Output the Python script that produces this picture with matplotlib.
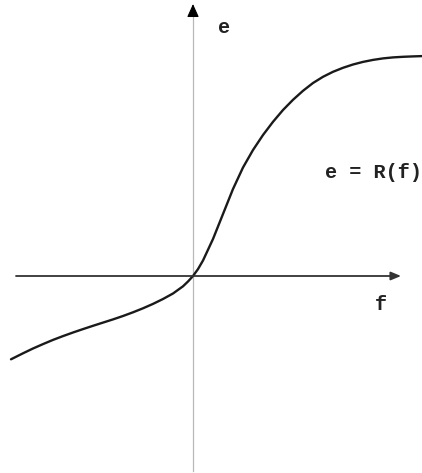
import numpy as np
import matplotlib.pyplot as plt

f_vals = [-182, -170, -160, -150, -140, -130, -120, -110, -100, -90, -80,
          -70, -60, -50, -40, -30, -20, -10, -5, 0, 5, 10, 20, 30, 40, 50,
          60, 70, 80, 90, 100, 110, 120, 130, 140, 150, 160, 170, 180, 190,
          200, 210, 220, 229]
e_vals = [-83.3, -77.3, -72.5, -68.1, -63.9, -60.1, -56.5, -53.1, -49.8,
          -46.6, -43.4, -40.0, -36.3, -32.3, -27.9, -23.0, -17.5, -10.3,
          -5.5, 0, 6.9, 15.5, 37.0, 62.0, 87.0, 108.5, 126.0, 141.0, 154.2,
          166.0, 176.2, 185.2, 193.0, 199.2, 204.2, 208.2, 211.5, 214.1,
          216.1, 217.6, 218.6, 219.2, 219.6, 219.9]

axis_f = [-177, 208]
axis_e = [-195, 272]

fig = plt.figure(figsize=(4.22, 4.73), dpi=100)
ax = fig.add_axes([0, 0, 1, 1])
ax.set_xlim(-193, 229)
ax.set_ylim(-197, 276)
ax.axis('off')

# vertical axis: light grey line, dark head
ax.plot([0, 0], [axis_e[0], axis_e[1] - 10], color='#b8b8b8', lw=0.9)
ax.annotate('', xy=(0, axis_e[1]), xytext=(0, axis_e[1] - 11),
            arrowprops=dict(arrowstyle='-|>,head_length=0.8,head_width=0.36',
                            color='black', lw=0.8, shrinkA=0, shrinkB=0,
                            mutation_scale=10))

# horizontal axis
ax.annotate('', xy=(axis_f[1], 0), xytext=(axis_f[0], 0),
            arrowprops=dict(arrowstyle='-|>,head_length=0.6,head_width=0.25',
                            color='#333333', lw=1.3, shrinkA=0, shrinkB=0,
                            mutation_scale=10))

ax.plot(f_vals, e_vals, color='#1a1a1a', lw=1.7,
        solid_joinstyle='round', solid_capstyle='round')

font = dict(family='Liberation Mono', weight='bold', fontsize=14.5, color='#222222')
ax.text(31, 248, 'e', ha='center', va='center', **font)
ax.text(188, -29, 'f', ha='center', va='center', **font)
ax.text(132, 103, 'e = R(f)', ha='left', va='center', **font)

fig.savefig('out.png', dpi=100)
